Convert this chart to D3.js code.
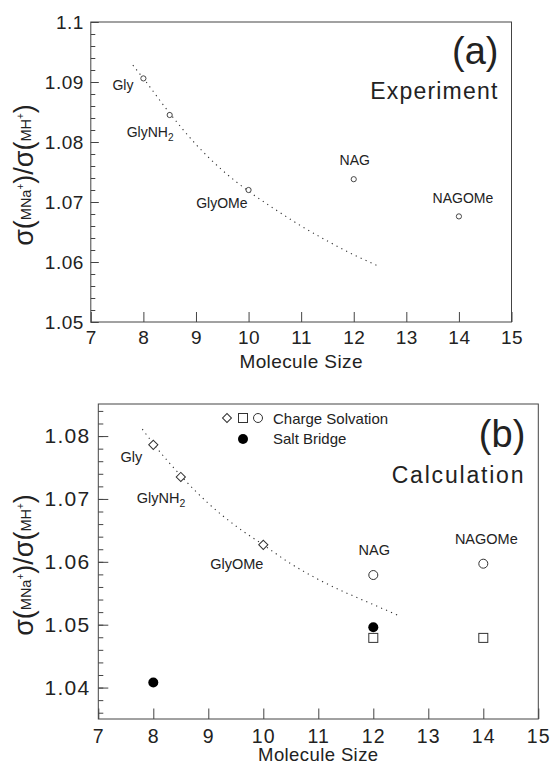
<!DOCTYPE html>
<html><head><meta charset="utf-8">
<script src="https://cdn.jsdelivr.net/npm/d3@7"></script>
<style>
html,body{margin:0;padding:0;background:#fff;}
svg{display:block;font-family:"Liberation Sans",Arial,sans-serif;}
</style></head>
<body>
<svg id="chart" width="554" height="764"></svg>
<script>
// ---------- data ----------
const xTicks = [7, 8, 9, 10, 11, 12, 13, 14, 15];
const xTickLabels = ["7", "8", "9", "10", "11", "12", "13", "14", "15"];
const yTicksA = [1.05, 1.06, 1.07, 1.08, 1.09, 1.10];
const yTickLabelsA = ["1.05", "1.06", "1.07", "1.08", "1.09", "1.1"];
const yTicksB = [1.04, 1.05, 1.06, 1.07, 1.08];
const yTickLabelsB = ["1.04", "1.05", "1.06", "1.07", "1.08"];

const molecules = ["Gly", "GlyNH2", "GlyOMe", "NAG", "NAGOMe"];
const moleculeSize = [8, 8.5, 10, 12, 14];
const expRatio = [1.0906, 1.0845, 1.0720, 1.0738, 1.0676];

const fitSize = [7.8, 8, 8.5, 9, 9.5, 10, 10.5, 11, 11.5, 12, 12.5];
const fitExp = [1.0928, 1.0906, 1.0848, 1.0796, 1.0753, 1.0718, 1.0688, 1.0660, 1.0635, 1.0612, 1.0592];
const fitCalc = [1.0811, 1.0788, 1.0737, 1.0693, 1.0657, 1.0627, 1.0597, 1.0572, 1.0551, 1.0532, 1.0513];

// calculation, charge solvation
const csDiamondSize = [8, 8.5, 10];
const csDiamondVal = [1.0786, 1.0735, 1.0627];
const csCircleSize = [12, 14];
const csCircleVal = [1.0579, 1.0597];
const csSquareSize = [12, 14];
const csSquareVal = [1.0479, 1.0479];
// calculation, salt bridge
const sbSize = [8, 12];
const sbVal = [1.0408, 1.0496];

// ---------- drawing ----------
const svg = d3.select("#chart");
const ink = "#222", frameCol = "#444";

function drawPanel(o) {
  const g = svg.append("g");
  const x = d3.scaleLinear().domain([7, 15]).range([o.L, o.R]);
  const y = d3.scaleLinear().domain(o.yDomain).range([o.B, o.T]);

  // minor y ticks
  const minor = d3.range(o.yDomain[0] + 1e-9, o.yDomain[1], 0.002).map(v => Math.round(v / 0.002) * 0.002)
    .filter(v => v >= o.yDomain[0] - 1e-9 && v <= o.yDomain[1] + 1e-9);
  g.append("g").attr("transform", `translate(${o.L},0)`)
    .call(d3.axisLeft(y).tickValues(minor).tickSize(-o.minorLen).tickFormat(""))
    .call(a => a.select(".domain").remove())
    .call(a => a.selectAll("line").attr("stroke", frameCol));
  // major y ticks
  g.append("g").attr("transform", `translate(${o.L},0)`)
    .call(d3.axisLeft(y).tickValues(o.yTicks).tickSize(-o.majorLen).tickPadding(o.yPad)
      .tickFormat((d, i) => o.yLabels[i]))
    .call(a => a.select(".domain").remove())
    .call(a => a.selectAll("line").attr("stroke", frameCol))
    .call(a => a.selectAll("text").attr("font-size", o.yFont).attr("fill", ink)
      .attr("font-family", "Liberation Sans, Arial, sans-serif").attr("letter-spacing", o.tickLs));
  // x ticks
  g.append("g").attr("transform", `translate(0,${o.B})`)
    .call(d3.axisBottom(x).tickValues(xTicks).tickSize(-o.xTickLen).tickPadding(o.xPad)
      .tickFormat((d, i) => xTickLabels[i]))
    .call(a => a.select(".domain").remove())
    .call(a => a.selectAll("line").attr("stroke", frameCol))
    .call(a => a.selectAll("text").attr("font-size", o.xFont).attr("fill", ink)
      .attr("font-family", "Liberation Sans, Arial, sans-serif").attr("letter-spacing", o.tickLs));

  // frame
  g.append("rect").attr("x", o.L).attr("y", o.T).attr("width", o.R - o.L).attr("height", o.B - o.T)
    .attr("fill", "none").attr("stroke", frameCol).attr("stroke-width", 1);

  // x title
  g.append("text").attr("x", (o.L + o.R) / 2).attr("y", o.xTitleY).attr("text-anchor", "middle")
    .attr("font-size", o.xTitleFont).attr("fill", ink).attr("letter-spacing", 0.4).text("Molecule Size");

  // y title: σ(MNa+)/σ(MH+)
  const yt = g.append("text").attr("transform", `translate(${o.yTitleX},${o.yTitleY}) rotate(-90)`)
    .attr("text-anchor", "middle").attr("fill", ink);
  const big = 27, sub = 14.5, sup = 10;
  yt.append("tspan").attr("font-size", big).text("σ");
  yt.append("tspan").attr("font-size", big).text("(");
  yt.append("tspan").attr("font-size", sub).attr("dy", -2).text("MNa");
  yt.append("tspan").attr("font-size", sup).attr("dy", -7).text("+");
  yt.append("tspan").attr("font-size", big).attr("dy", 9).text(")");
  yt.append("tspan").attr("font-size", big).text("/σ");
  yt.append("tspan").attr("font-size", big).text("(");
  yt.append("tspan").attr("font-size", sub).attr("dy", -2).text("MH");
  yt.append("tspan").attr("font-size", sup).attr("dy", -7).text("+");
  yt.append("tspan").attr("font-size", big).attr("dy", 9).text(")");

  // dotted fit
  const line = d3.line().curve(d3.curveMonotoneX).x((d, i) => x(fitSize[i])).y(d => y(d));
  g.append("path").datum(o.fit).attr("d", line).attr("fill", "none")
    .attr("stroke", "#333").attr("stroke-width", 1.1).attr("stroke-dasharray", "1.2,4.2");

  // panel tag and title
  g.append("text").attr("x", o.R - o.tagDx).attr("y", o.tagY).attr("text-anchor", "end")
    .attr("font-size", 38).attr("fill", ink).text(o.tag);
  g.append("text").attr("x", o.R - o.tagDx).attr("y", o.titleY).attr("text-anchor", "end")
    .attr("font-size", 23).attr("letter-spacing", o.titleLs).attr("fill", ink).text(o.title);

  return { g, x, y };
}

function moleculeLabels(p, vals, offs, fs) {
  molecules.forEach((m, i) => {
    const off = offs[i];
    const t = p.g.append("text").attr("x", p.x(moleculeSize[i]) + off[0]).attr("y", p.y(vals[i]) + off[1])
      .attr("text-anchor", off[2]).attr("font-size", fs).attr("fill", ink);
    if (m === "GlyNH2") {
      t.append("tspan").text("GlyNH");
      t.append("tspan").attr("font-size", fs * 0.72).attr("dy", 4).text("2");
    } else t.text(m);
  });
}

// ---------- panel (a) ----------
const pa = drawPanel({
  L: 90.8, R: 511.5, T: 22, B: 322, yDomain: [1.05, 1.10],
  yTicks: yTicksA, yLabels: yTickLabelsA, minorLen: 4.5, majorLen: 8, yPad: 7, yFont: 19,
  xTickLen: 10, xPad: 9, xFont: 19, tickLs: 0.5,
  xTitleY: 368, xTitleFont: 19, yTitleX: 33, yTitleY: 175,
  fit: fitExp, tag: "(a)", tagDx: 13, tagY: 64, title: "Experiment", titleY: 99, titleLs: 1.2
});
pa.g.append("g").selectAll("circle").data(expRatio).join("circle")
  .attr("cx", (d, i) => pa.x(moleculeSize[i])).attr("cy", d => pa.y(d)).attr("r", 2.6)
  .attr("fill", "#fff").attr("stroke", "#333").attr("stroke-width", 0.9);
moleculeLabels(pa, expRatio,
  [[-10, 12, "end"], [-43, 22, "start"], [-1, 18, "end"], [1, -14, "middle"], [4, -13, "middle"]], 14);

// ---------- panel (b) ----------
const pb = drawPanel({
  L: 98.3, R: 538.3, T: 404, B: 719, yDomain: [1.035, 1.0851],
  yTicks: yTicksB, yLabels: yTickLabelsB, minorLen: 5, majorLen: 10, yPad: 8, yFont: 21,
  xTickLen: 10.5, xPad: 10, xFont: 19.5, tickLs: 1.2,
  xTitleY: 761, xTitleFont: 18.5, yTitleX: 33, yTitleY: 565,
  fit: fitCalc, tag: "(b)", tagDx: 13, tagY: 447, title: "Calculation", titleY: 483, titleLs: 1.8
});
const mStroke = "#333";
pb.g.append("g").selectAll("path").data(csDiamondVal).join("path")
  .attr("transform", (d, i) => `translate(${pb.x(csDiamondSize[i])},${pb.y(d)}) rotate(45)`)
  .attr("d", d3.symbol(d3.symbolSquare, 42)).attr("fill", "#fff").attr("stroke", mStroke).attr("stroke-width", 1);
pb.g.append("g").selectAll("circle").data(csCircleVal).join("circle")
  .attr("cx", (d, i) => pb.x(csCircleSize[i])).attr("cy", d => pb.y(d)).attr("r", 4.5)
  .attr("fill", "#fff").attr("stroke", mStroke).attr("stroke-width", 1);
pb.g.append("g").selectAll("rect").data(csSquareVal).join("rect")
  .attr("x", (d, i) => pb.x(csSquareSize[i]) - 4.5).attr("y", d => pb.y(d) - 4.5)
  .attr("width", 9).attr("height", 9).attr("fill", "#fff").attr("stroke", mStroke).attr("stroke-width", 1);
pb.g.append("g").selectAll("circle").data(sbVal).join("circle")
  .attr("cx", (d, i) => pb.x(sbSize[i])).attr("cy", d => pb.y(d)).attr("r", 5)
  .attr("fill", "#000");
moleculeLabels(pb, [csDiamondVal[0], csDiamondVal[1], csDiamondVal[2], csCircleVal[0], csCircleVal[1]],
  [[-11, 17, "end"], [-44, 26, "start"], [0, 24, "end"], [1, -20, "middle"], [3, -20, "middle"]], 14.5);

// legend
const lg = pb.g.append("g");
lg.append("path").attr("transform", "translate(227,418) rotate(45)").attr("d", d3.symbol(d3.symbolSquare, 40))
  .attr("fill", "#fff").attr("stroke", mStroke);
lg.append("rect").attr("x", 238.5).attr("y", 413.5).attr("width", 9).attr("height", 9)
  .attr("fill", "#fff").attr("stroke", mStroke);
lg.append("circle").attr("cx", 258).attr("cy", 418).attr("r", 4.5).attr("fill", "#fff").attr("stroke", mStroke);
lg.append("circle").attr("cx", 243).attr("cy", 439).attr("r", 5).attr("fill", "#000");
lg.append("text").attr("x", 273).attr("y", 424).attr("font-size", 15).attr("fill", ink).text("Charge Solvation");
lg.append("text").attr("x", 273).attr("y", 444).attr("font-size", 15).attr("fill", ink).text("Salt Bridge");
</script>
</body></html>
